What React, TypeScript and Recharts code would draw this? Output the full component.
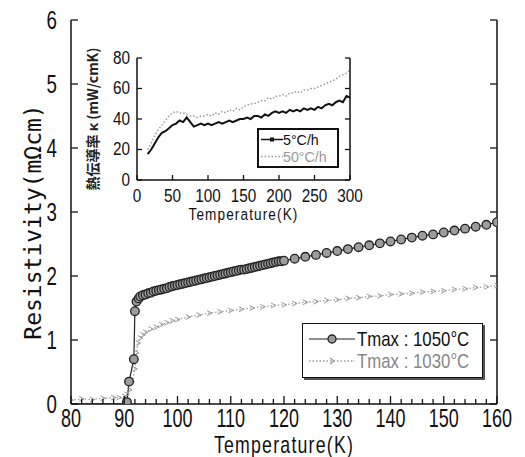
import React from 'react';
import { LineChart, Line, XAxis, YAxis, Legend, Label } from 'recharts';

// ---------- data ----------
const seriesNames = ['Tmax : 1050°C', 'Tmax : 1030°C'];

const temp1050 = [80, 82, 84, 86, 88, 90, 90.5, 90.9, 91.8, 92, 92.3, 92.7,
  93, 93.5, 94, 94.5, 95, 95.5, 96, 96.5, 97, 97.5, 98, 98.5, 99, 99.5,
  100, 100.5, 101, 101.5, 102, 102.5, 103, 103.5, 104, 104.5, 105, 105.5, 106, 106.5, 107, 107.5, 108, 108.5, 109, 109.5,
  110, 110.5, 111, 111.5, 112, 112.5, 113, 113.5, 114, 114.5, 115, 115.5, 116, 116.5, 117, 117.5, 118, 118.5, 119, 119.5,
  120, 122, 124, 126, 128, 130, 132, 134, 136, 138, 140, 142, 144, 146, 148, 150, 152, 154, 156, 158, 160];
const rho1050 = [0, 0, 0, 0, 0, 0, 0.03, 0.35, 0.7, 1.45, 1.6, 1.65,
  1.68, 1.7, 1.71, 1.73, 1.74, 1.76, 1.77, 1.78, 1.79, 1.8, 1.81, 1.83, 1.84, 1.85,
  1.86, 1.87, 1.88, 1.89, 1.9, 1.91, 1.92, 1.93, 1.94, 1.95, 1.96, 1.97, 1.98, 1.99, 2.0, 2.01, 2.02, 2.03, 2.04, 2.05,
  2.06, 2.07, 2.08, 2.09, 2.1, 2.1, 2.11, 2.12, 2.13, 2.14, 2.15, 2.16, 2.17, 2.18, 2.19, 2.2, 2.21, 2.22, 2.23, 2.23,
  2.24, 2.27, 2.3, 2.33, 2.36, 2.39, 2.42, 2.45, 2.48, 2.51, 2.54, 2.57, 2.6, 2.63, 2.65, 2.68, 2.71, 2.74, 2.77, 2.8, 2.84];

const temp1030 = [80, 82, 84, 86, 88, 89, 90, 90.5, 91, 91.5, 92, 92.3, 92.6, 93, 93.5, 94,
  95, 96, 97, 98, 99, 100,
  102, 104, 106, 108, 110, 112, 114, 116, 118, 120, 122, 124, 126, 128, 130,
  132, 134, 136, 138, 140, 142, 144, 146, 148, 150, 152, 154, 156, 158, 160];
const rho1030 = [0.06, 0.08, 0.07, 0.09, 0.1, 0.1, 0.12, 0.15, 0.22, 0.35, 0.55, 0.8, 0.95, 1.03, 1.08, 1.12,
  1.17, 1.2, 1.24, 1.27, 1.3, 1.32,
  1.36, 1.39, 1.42, 1.44, 1.46, 1.48, 1.5, 1.52, 1.54, 1.55, 1.57, 1.59, 1.6, 1.62, 1.63,
  1.65, 1.66, 1.68, 1.69, 1.71, 1.72, 1.73, 1.75, 1.76, 1.77, 1.79, 1.8, 1.82, 1.83, 1.85];

const xTicks = [80, 82, 84, 86, 88, 90, 92, 94, 96, 98, 100, 102, 104, 106, 108, 110, 112, 114, 116, 118, 120,
  122, 124, 126, 128, 130, 132, 134, 136, 138, 140, 142, 144, 146, 148, 150, 152, 154, 156, 158, 160];
const yTicks = [0, 1, 2, 3, 4, 5, 6];
const mainXTitle = 'Temperature(K)';
const mainYTitle = 'Resistivity(mΩcm)';

// inset
const insetNames = ['5°C/h', '50°C/h'];
const insetTemps = [15, 20, 25, 30, 35, 40, 45, 50, 55, 60, 65, 70, 75, 80, 85, 90, 95,
  100, 105, 110, 115, 120, 125, 130, 135, 140, 145, 150, 155, 160, 165, 170, 175, 180, 185, 190, 195,
  200, 205, 210, 215, 220, 225, 230, 235, 240, 245, 250, 255, 260, 265, 270, 275, 280, 285, 290, 295, 300];
const kappa5 = [17, 20, 24, 28, 31, 32, 34, 36, 37, 39, 38, 41, 38, 35, 36, 37, 36,
  37, 36, 37, 38, 37, 38, 39, 38, 39, 40, 40, 41, 40, 42, 42, 41, 43, 42, 44, 45,
  44, 45, 44, 46, 45, 46, 45, 47, 46, 47, 46, 48, 47, 49, 50, 49, 51, 52, 51, 55, 54];
const kappa50 = [20, 24, 29, 33, 36, 39, 42, 44, 45, 44, 44, 43, 42, 42, 41, 42, 42,
  43, 42, 44, 43, 45, 44, 46, 45, 47, 46, 48, 49, 50, 50, 51, 52, 52, 54, 53, 55,
  55, 56, 55, 57, 57, 58, 57, 59, 59, 60, 60, 61, 62, 63, 64, 65, 66, 68, 69, 70, 72];
const insetXTicks = [0, 50, 100, 150, 200, 250, 300];
const insetYTicks = [0, 20, 40, 60, 80];
const insetXTitle = 'Temperature(K)';
const insetYTitle = '熱伝導率 κ (mW/cmK)';

const data1050 = temp1050.map((t, i) => ({ t, v: rho1050[i] }));
const data1030 = temp1030.map((t, i) => ({ t, v: rho1030[i] }));
const data5 = insetTemps.map((t, i) => ({ t, k: kappa5[i] }));
const data50 = insetTemps.map((t, i) => ({ t, k: kappa50[i] }));

// ---------- styling helpers ----------
const SANS = "'Liberation Sans', Arial, sans-serif";
const MONO = "'DejaVu Sans Mono', 'Liberation Mono', monospace";
const CJK = "'Noto Sans CJK JP', 'Noto Sans CJK SC', sans-serif";

// horizontally condensed svg text
function NText(props: any) {
  const { x, y, anchor = 'middle', size, sx = 0.75, ls = 0, fill = '#111', baseline, children } = props;
  return (
    <text transform={`translate(${x} ${y}) scale(${sx} 1)`} x={0} y={0} textAnchor={anchor}
      dominantBaseline={baseline} fontFamily={SANS} fontSize={size} letterSpacing={ls} fill={fill}>
      {children}
    </text>
  );
}

type TickOpts = {
  side: 'bottom' | 'top' | 'left' | 'right';
  major: (v: number) => boolean;
  majorLen: number;
  minorLen: number;
  label: boolean;
  offset: number;
  fontSize: number;
  sx: number;
};

function makeTick(o: TickOpts) {
  return function Tick(props: any) {
    const { x, y, payload } = props;
    const v = payload.value;
    const isMajor = o.major(v);
    const len = isMajor ? o.majorLen : o.minorLen;
    let x2 = x, y2 = y;
    if (o.side === 'bottom') y2 = y - len;
    if (o.side === 'top') y2 = y + len;
    if (o.side === 'left') x2 = x + len;
    if (o.side === 'right') x2 = x - len;
    let text = null;
    if (o.label && isMajor) {
      if (o.side === 'bottom') {
        text = <NText x={x} y={y + o.offset} anchor="middle" baseline="central" size={o.fontSize} sx={o.sx}>{v}</NText>;
      } else if (o.side === 'left') {
        text = <NText x={x - o.offset} y={y} anchor="end" baseline="central" size={o.fontSize} sx={o.sx}>{v}</NText>;
      }
    }
    return (
      <g>
        <line x1={x} y1={y} x2={x2} y2={y2} stroke="#111" strokeWidth={1.3} />
        {text}
      </g>
    );
  };
}

const MainBottomTick = makeTick({ side: 'bottom', major: v => v % 10 === 0, majorLen: 8, minorLen: 5, label: true, offset: 14, fontSize: 25, sx: 0.72 });
const MainTopTick = makeTick({ side: 'top', major: v => v % 10 === 0, majorLen: 7, minorLen: 4, label: false, offset: 0, fontSize: 25, sx: 0.72 });
const MainLeftTick = makeTick({ side: 'left', major: () => true, majorLen: 7, minorLen: 7, label: true, offset: 14, fontSize: 26, sx: 0.72 });
const MainRightTick = makeTick({ side: 'right', major: () => true, majorLen: 7, minorLen: 7, label: false, offset: 0, fontSize: 25, sx: 0.72 });

const InsetBottomTick = makeTick({ side: 'bottom', major: () => true, majorLen: 5, minorLen: 5, label: true, offset: 16, fontSize: 18, sx: 0.85 });
const InsetTopTick = makeTick({ side: 'top', major: () => true, majorLen: 5, minorLen: 5, label: false, offset: 0, fontSize: 18, sx: 0.85 });
const InsetLeftTick = makeTick({ side: 'left', major: () => true, majorLen: 5, minorLen: 5, label: true, offset: 7, fontSize: 18, sx: 0.85 });
const InsetRightTick = makeTick({ side: 'right', major: () => true, majorLen: 5, minorLen: 5, label: false, offset: 0, fontSize: 18, sx: 0.85 });

const MainXTitle = (props: any) => {
  const vb = props.viewBox || { x: 71, y: 404, width: 426, height: 53 };
  return <NText x={vb.x + vb.width / 2} y={vb.y + 49} size={23} sx={0.77} ls={1.6}>{mainXTitle}</NText>;
};
const MainYTitle = (props: any) => {
  const vb = props.viewBox || { x: 0, y: 20, width: 71, height: 384 };
  const cx = vb.x + 33;
  const cy = vb.y + vb.height / 2 + 10;
  return (
    <text x={cx} y={cy} transform={`rotate(-90 ${cx} ${cy})`} textAnchor="middle" dominantBaseline="central"
      fontFamily={MONO} fontSize={23} fill="#111">{mainYTitle}</text>
  );
};
const InsetXTitle = (props: any) => {
  const vb = props.viewBox || { x: 57, y: 140, width: 213, height: 50 };
  return <NText x={vb.x + vb.width / 2} y={vb.y + 40} size={17} sx={0.8} ls={1.4}>{insetXTitle}</NText>;
};
const InsetYTitle = (props: any) => {
  const vb = props.viewBox || { x: 0, y: 18, width: 57, height: 122 };
  const cx = vb.x + 12;
  const cy = vb.y + vb.height / 2;
  return (
    <text x={cx} y={cy} transform={`rotate(-90 ${cx} ${cy})`} textAnchor="middle" dominantBaseline="central"
      fontFamily={CJK} fontSize={14} fontWeight={700} fill="#222">{insetYTitle}</text>
  );
};

// markers
const CircleDot = (props: any) => {
  const { cx, cy, payload } = props;
  if (payload.v < 0.02 || cx == null) return <g />;
  return <circle cx={cx} cy={cy} r={4.3} fill="#9c9c9c" stroke="#222" strokeWidth={1.3} />;
};
const TriDot = (props: any) => {
  const { cx, cy } = props;
  if (cx == null) return <g />;
  return <path d={`M${cx - 2.5},${cy - 2.5} L${cx + 2.5},${cy} L${cx - 2.5},${cy + 2.5}`} fill="none" stroke="#999" strokeWidth={1} />;
};

const condensed = (sx: number): React.CSSProperties => ({
  display: 'inline-block', transform: `scaleX(${sx})`, transformOrigin: 'left center', whiteSpace: 'nowrap',
});

const MainLegend = () => (
  <div style={{
    width: 181, height: 55, boxSizing: 'border-box', border: '1.5px solid #111',
    boxShadow: '2px 2px 0 #555', background: '#fff', paddingTop: 4, overflow: 'hidden',
  }}>
    {seriesNames.map((name, i) => (
      <div key={name} style={{ display: 'flex', alignItems: 'center', height: 22 }}>
        <svg width={54} height={22} style={{ flex: 'none' }}>
          {i === 0 ? (
            <g>
              <line x1={6} x2={52} y1={11} y2={11} stroke="#222" strokeWidth={1.2} />
              <circle cx={29} cy={11} r={4} fill="#9c9c9c" stroke="#222" strokeWidth={1.3} />
            </g>
          ) : (
            <g>
              <line x1={6} x2={52} y1={11} y2={11} stroke="#999" strokeWidth={1.3} strokeDasharray="1.5 2" />
              <path d="M27,8 L31,11 L27,14" fill="none" stroke="#999" strokeWidth={1.2} />
            </g>
          )}
        </svg>
        <span style={{ ...condensed(0.8), fontFamily: SANS, fontSize: 21, lineHeight: '22px', height: 22, color: i === 0 ? '#111' : '#888' }}>{name}</span>
      </div>
    ))}
  </div>
);

const InsetLegend = () => (
  <div style={{
    width: 82, height: 40, boxSizing: 'border-box', border: '2px solid #111',
    background: '#fff', paddingTop: 1, overflow: 'hidden',
  }}>
    {insetNames.map((name, i) => (
      <div key={name} style={{ display: 'flex', alignItems: 'center', height: 17 }}>
        <svg width={24} height={17} style={{ flex: 'none' }}>
          {i === 0 ? (
            <g>
              <line x1={2} x2={24} y1={8.5} y2={8.5} stroke="#111" strokeWidth={1.5} />
              <rect x={11} y={6.5} width={4} height={4} fill="#111" />
            </g>
          ) : (
            <line x1={2} x2={24} y1={8.5} y2={8.5} stroke="#999" strokeWidth={1.3} strokeDasharray="1.5 2" />
          )}
        </svg>
        <span style={{ ...condensed(0.95), fontFamily: SANS, fontSize: 15, lineHeight: '17px', height: 17, color: i === 0 ? '#111' : '#999' }}>{name}</span>
      </div>
    ))}
  </div>
);

const axisLine = { stroke: '#111', strokeWidth: 1.5 };

export default function App() {
  return (
    <div style={{ position: 'absolute', left: 0, top: 0, width: 525, height: 457, background: '#fff' }}>
      <LineChart width={525} height={457} margin={{ top: 20, right: 0, bottom: 0, left: 0 }}>
        <XAxis dataKey="t" type="number" domain={[80, 160]} ticks={xTicks} interval={0}
          tickSize={0} tickMargin={0} tick={<MainBottomTick />} height={53} axisLine={axisLine}
          allowDataOverflow>
          <Label content={<MainXTitle />} />
        </XAxis>
        <XAxis xAxisId="top" orientation="top" dataKey="t" type="number" domain={[80, 160]} ticks={xTicks}
          interval={0} tickSize={0} tickMargin={0} tick={<MainTopTick />} height={0} axisLine={axisLine}
          allowDataOverflow />
        <YAxis type="number" domain={[0, 6]} ticks={yTicks} interval={0} width={71}
          tickSize={0} tickMargin={0} tick={<MainLeftTick />} axisLine={axisLine} allowDataOverflow>
          <Label content={<MainYTitle />} />
        </YAxis>
        <YAxis yAxisId="right" orientation="right" type="number" domain={[0, 6]} ticks={yTicks} interval={0}
          width={28} tickSize={0} tickMargin={0} tick={<MainRightTick />} axisLine={axisLine} allowDataOverflow />
        <Legend layout="vertical" verticalAlign="middle" align="center" content={<MainLegend />}
          wrapperStyle={{ left: 302, top: 323, width: 181, height: 55 }} />
        <Line data={data1030} dataKey="v" name={seriesNames[1]} stroke="#a0a0a0" strokeWidth={1.3}
          strokeDasharray="1.5 2" dot={<TriDot />} isAnimationActive={false} />
        <Line data={data1050} dataKey="v" name={seriesNames[0]} stroke="#222" strokeWidth={1.2}
          dot={<CircleDot />} isAnimationActive={false} />
      </LineChart>

      <div style={{ position: 'absolute', left: 80, top: 40 }}>
        <LineChart width={290} height={190} margin={{ top: 18, right: 10, bottom: 0, left: 0 }}>
          <XAxis dataKey="t" type="number" domain={[0, 300]} ticks={insetXTicks} interval={0}
            tickSize={0} tickMargin={0} tick={<InsetBottomTick />} height={50} axisLine={axisLine} allowDataOverflow>
            <Label content={<InsetXTitle />} />
          </XAxis>
          <XAxis xAxisId="top" orientation="top" dataKey="t" type="number" domain={[0, 300]} ticks={insetXTicks}
            interval={0} tickSize={0} tickMargin={0} tick={<InsetTopTick />} height={0} axisLine={axisLine} allowDataOverflow />
          <YAxis type="number" domain={[0, 80]} ticks={insetYTicks} interval={0} width={57}
            tickSize={0} tickMargin={0} tick={<InsetLeftTick />} axisLine={axisLine} allowDataOverflow>
            <Label content={<InsetYTitle />} />
          </YAxis>
          <YAxis yAxisId="right" orientation="right" type="number" domain={[0, 80]} ticks={insetYTicks} interval={0}
            width={10} tickSize={0} tickMargin={0} tick={<InsetRightTick />} axisLine={axisLine} allowDataOverflow />
          <Legend layout="vertical" verticalAlign="middle" align="center" content={<InsetLegend />}
            wrapperStyle={{ left: 177, top: 88, width: 82, height: 40 }} />
          <Line data={data50} dataKey="k" name={insetNames[1]} stroke="#9a9a9a" strokeWidth={1.5}
            strokeDasharray="1.5 2" dot={false} isAnimationActive={false} />
          <Line data={data5} dataKey="k" name={insetNames[0]} stroke="#111" strokeWidth={2}
            dot={false} isAnimationActive={false} />
        </LineChart>
      </div>
    </div>
  );
}
